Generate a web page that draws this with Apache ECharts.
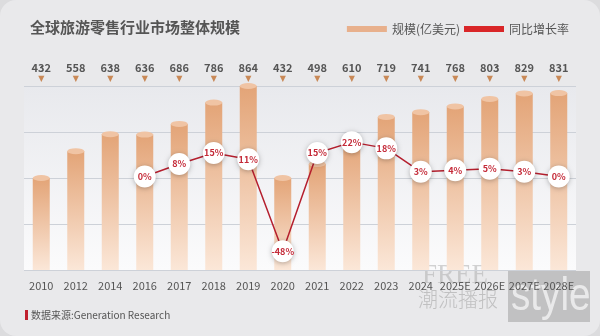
<!DOCTYPE html>
<html>
<head>
<meta charset="utf-8">
<script src="https://cdn.jsdelivr.net/npm/echarts@6/dist/echarts.min.js"></script>
<style>
  html, body { margin: 0; padding: 0; background: #dcdcde; }
  #chart { width: 600px; height: 336px; background: #e9e9eb; border-radius: 16px; overflow: hidden; }
</style>
</head>
<body>
<div id="chart"></div>
<script>
// 年份（含预测年份）
const years = ['2010', '2012', '2014', '2016', '2017', '2018', '2019', '2020', '2021', '2022', '2023', '2024', '2025E', '2026E', '2027E', '2028E'];
// 全球旅游零售市场规模（亿美元）
const marketSize = [432, 558, 638, 636, 686, 786, 864, 432, 498, 610, 719, 741, 768, 803, 829, 831];
// 同比增长率（%），2016 年之前无数据
const yoyGrowth = [null, null, null, 0, 8, 15, 11, -48, 15, 22, 18, 3, 4, 5, 3, 0];

const FONT = '"Noto Sans CJK SC", "Noto Sans", sans-serif';
const chart = echarts.init(document.getElementById('chart'), null, { renderer: 'canvas' });

const barGradient = new echarts.graphic.LinearGradient(0, 0, 0, 1, [
  { offset: 0, color: '#e3a477' },
  { offset: 1, color: '#fbe7d8' }
]);

chart.setOption({
  animation: false,
  textStyle: { fontFamily: FONT },
  title: {
    text: '全球旅游零售行业市场整体规模',
    left: 25,
    top: 15,
    textStyle: { fontSize: 15, fontWeight: 'bold', color: '#555', fontFamily: FONT }
  },
  legend: {
    right: 26,
    top: 18,
    itemWidth: 40,
    itemHeight: 6,
    itemGap: 4,
    textStyle: { fontSize: 12, color: '#555', fontFamily: FONT },
    data: [
      { name: '规模(亿美元)', icon: 'rect', itemStyle: { color: '#e8b08c' } },
      { name: '同比增长率', icon: 'rect', itemStyle: { color: '#d92628' } }
    ]
  },
  grid: {
    left: 24,
    right: 24,
    top: 86,
    bottom: 66,
    show: true,
    borderWidth: 0,
    backgroundColor: new echarts.graphic.LinearGradient(0, 0, 0, 1, [
      { offset: 0, color: '#e8e9ed' },
      { offset: 1, color: '#fbfbfc' }
    ])
  },
  xAxis: [
    {
      type: 'category',
      data: years,
      boundaryGap: true,
      axisLine: { show: false },
      axisTick: { show: false },
      axisLabel: { color: '#555', fontSize: 11, margin: 10, interval: 0, fontFamily: FONT }
    },
    {
      type: 'category',
      position: 'top',
      data: years,
      boundaryGap: true,
      axisLine: { show: false },
      axisTick: { show: false },
      axisLabel: {
        margin: 2,
        interval: 0,
        formatter: (v, i) => '{v|' + marketSize[i] + '}\n{t|▼}',
        rich: {
          v: { fontSize: 11, fontWeight: 'bold', color: '#555', lineHeight: 13, fontFamily: FONT },
          t: { fontSize: 8, color: '#c98957', lineHeight: 10, fontFamily: 'DejaVu Sans' }
        }
      }
    }
  ],
  yAxis: [
    {
      type: 'value',
      min: 0,
      max: 864,
      interval: 216,
      axisLabel: { show: false },
      axisLine: { show: false },
      axisTick: { show: false },
      splitLine: { lineStyle: { color: '#cdd1d8', width: 1 } }
    },
    {
      type: 'value',
      min: -60,
      max: 58,
      axisLabel: { show: false },
      axisLine: { show: false },
      axisTick: { show: false },
      splitLine: { show: false }
    }
  ],
  series: [
    {
      name: '规模(亿美元)',
      type: 'bar',
      data: marketSize,
      barWidth: 17,
      itemStyle: { color: barGradient },
      z: 2
    },
    {
      // 柱顶椭圆高光，形成圆柱效果
      name: 'cap',
      type: 'pictorialBar',
      data: marketSize,
      symbol: 'circle',
      symbolSize: [17, 6],
      symbolPosition: 'end',
      symbolOffset: [0, '-50%'],
      itemStyle: { color: '#f0c4a4' },
      legendHoverLink: false,
      z: 3
    },
    {
      name: '同比增长率',
      type: 'line',
      yAxisIndex: 1,
      data: yoyGrowth,
      symbol: 'circle',
      symbolSize: 22,
      lineStyle: { color: '#b51f2e', width: 1.5 },
      itemStyle: {
        color: '#ffffff',
        shadowBlur: 5,
        shadowColor: 'rgba(0,0,0,0.28)',
        shadowOffsetY: 1
      },
      label: {
        show: true,
        position: 'inside',
        formatter: p => p.value + '%',
        color: '#c42a38',
        fontSize: 9,
        fontWeight: 'bold',
        fontFamily: FONT
      },
      z: 5
    }
  ],
  graphic: [
    {
      type: 'rect',
      x: 25,
      y: 310,
      shape: { x: 0, y: 0, width: 3, height: 10 },
      style: { fill: '#c0202e' }
    },
    {
      type: 'text',
      x: 31,
      y: 315,
      style: { text: '数据来源:Generation Research', fill: '#555', fontSize: 10, fontFamily: FONT, verticalAlign: 'middle' }
    },
    // 右下角水印
    {
      type: 'text',
      x: 422,
      y: 276,
      silent: true,
      style: { text: 'FREE', fill: 'rgba(175,175,175,0.55)', fontSize: 27, fontFamily: '"Liberation Serif", serif', verticalAlign: 'middle' }
    },
    {
      type: 'text',
      x: 418,
      y: 299,
      silent: true,
      style: { text: '潮流播报', fill: 'rgba(165,165,165,0.6)', fontSize: 20, fontFamily: FONT, fontWeight: 300, verticalAlign: 'middle' }
    },
    {
      type: 'rect',
      x: 508,
      y: 271,
      silent: true,
      shape: { x: 0, y: 0, width: 82, height: 51 },
      style: { fill: 'rgba(160,160,160,0.55)' }
    },
    {
      type: 'text',
      x: 511,
      y: 297,
      scaleX: 0.84,
      silent: true,
      style: { text: 'style', fill: 'rgba(238,238,238,0.9)', fontSize: 46, fontFamily: '"Liberation Sans", sans-serif', verticalAlign: 'middle' }
    }
  ]
});
</script>
</body>
</html>
